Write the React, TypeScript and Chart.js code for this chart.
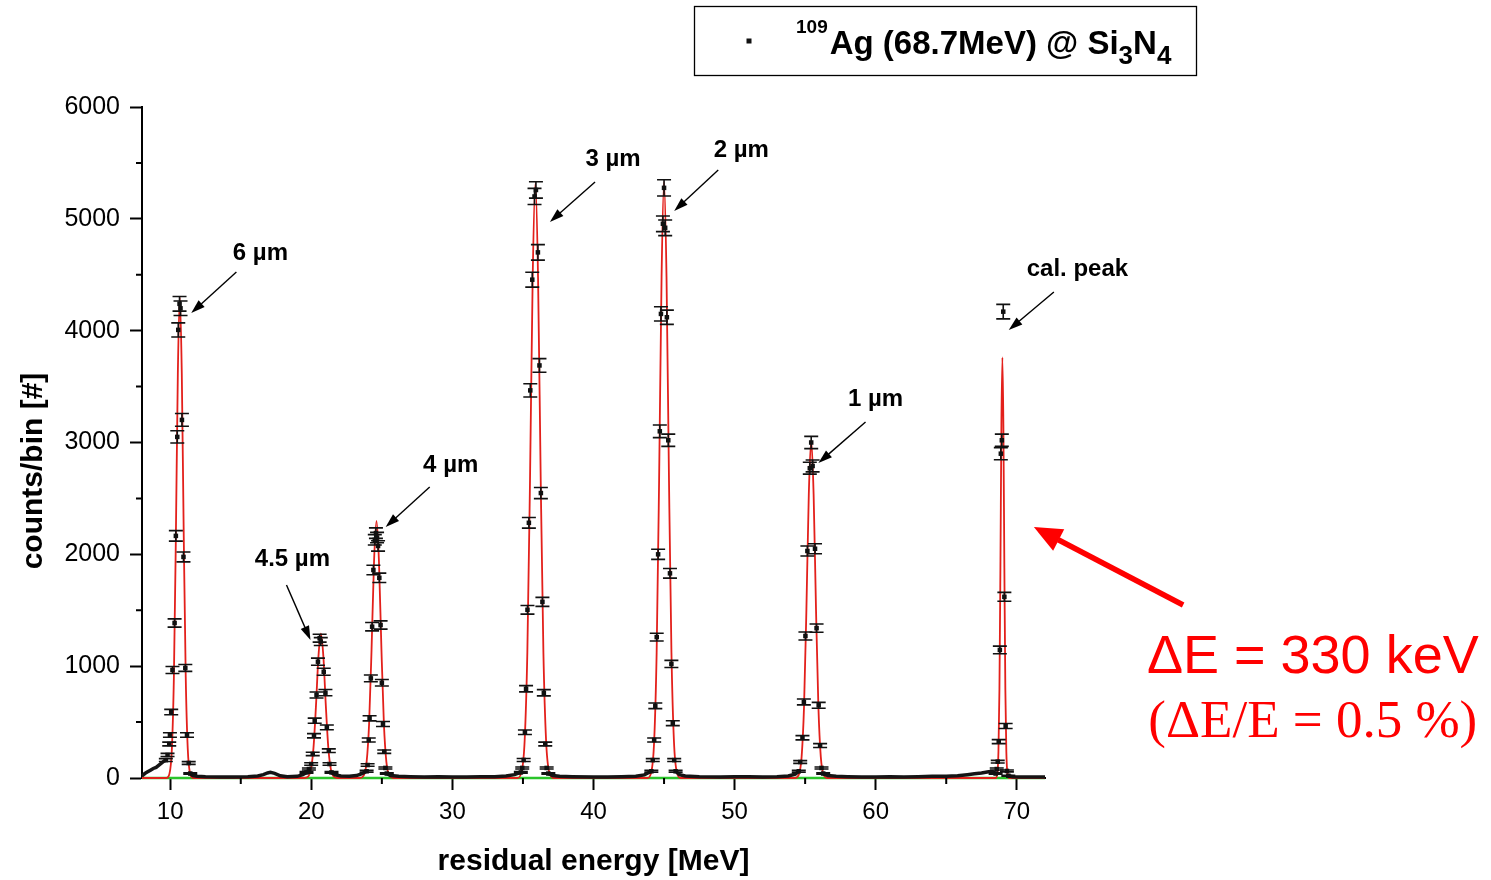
import React, { useEffect, useRef } from 'react';
import { Chart, registerables } from 'chart.js';

Chart.register(...registerables);

// ---- data: [residual energy (MeV), counts/bin, error] ----
const peak6um: number[][] = [
  [9.69, 160, 13], [9.81, 206, 14], [9.93, 304, 17], [9.98, 385, 20], [10.07, 590, 24], [10.16, 966, 31],
  [10.31, 1386, 37], [10.40, 2165, 47], [10.50, 3050, 55], [10.57, 4007, 63], [10.66, 4240, 65],
  [10.73, 4200, 65], [10.83, 3202, 57], [10.94, 1977, 44], [11.07, 984, 31], [11.19, 385, 20],
  [11.31, 134, 12], [11.42, 40, 6],
];
const peak45um: number[][] = [
  [19.66, 50, 7], [19.83, 80, 9], [19.99, 125, 11], [20.10, 215, 15], [20.19, 378, 19], [20.24, 512, 23],
  [20.37, 742, 27], [20.47, 1040, 32], [20.59, 1250, 35], [20.67, 1220, 35], [20.88, 950, 31],
  [21.00, 763, 28], [21.10, 453, 21], [21.24, 244, 16], [21.29, 125, 11], [21.43, 50, 7],
];
const peak4um: number[][] = [
  [23.92, 60, 8], [23.99, 116, 11], [24.07, 340, 18], [24.13, 534, 23], [24.22, 891, 30], [24.31, 1353, 37],
  [24.40, 1860, 43], [24.50, 2130, 46], [24.58, 2190, 47], [24.66, 2150, 46], [24.73, 2075, 46],
  [24.82, 1790, 42], [24.91, 1368, 37], [25.00, 852, 29], [25.08, 483, 22], [25.17, 235, 15],
  [25.25, 90, 9], [25.35, 40, 6],
];
const peak3um: number[][] = [
  [34.85, 50, 7], [34.95, 90, 9], [35.05, 161, 13], [35.14, 409, 20], [35.22, 798, 28], [35.32, 1504, 39],
  [35.42, 2282, 48], [35.52, 3466, 59], [35.66, 4456, 67], [35.82, 5200, 72], [35.92, 5258, 73],
  [36.06, 4700, 69], [36.17, 3689, 61], [36.27, 2548, 50], [36.38, 1575, 40], [36.48, 762, 28],
  [36.58, 304, 17], [36.68, 90, 9], [36.80, 40, 6],
];
const peak2um: number[][] = [
  [44.10, 60, 8], [44.20, 160, 13], [44.30, 340, 18], [44.38, 645, 25], [44.48, 1260, 35], [44.58, 2000, 45],
  [44.70, 3100, 56], [44.78, 4150, 64], [44.92, 4956, 70], [45.00, 5277, 73], [45.08, 4920, 70],
  [45.20, 4120, 64], [45.30, 3020, 55], [45.42, 1830, 43], [45.52, 1020, 32], [45.62, 490, 22],
  [45.72, 160, 13], [45.82, 60, 8],
];
const peak1um: number[][] = [
  [54.55, 60, 8], [54.65, 143, 12], [54.81, 360, 19], [54.91, 680, 26], [55.02, 1270, 36], [55.16, 2030, 45],
  [55.33, 2770, 53], [55.43, 3000, 55], [55.53, 2790, 53], [55.70, 2050, 45], [55.81, 1340, 37],
  [55.96, 650, 26], [56.06, 290, 17], [56.16, 90, 9], [56.28, 40, 6],
];
const peakCal: number[][] = [
  [68.50, 40, 6], [68.58, 80, 9], [68.65, 146, 12], [68.72, 325, 18], [68.80, 1145, 34], [68.87, 2900, 54],
  [68.94, 3020, 55], [69.04, 4170, 65], [69.12, 1620, 40], [69.21, 465, 22], [69.30, 63, 8], [69.40, 20, 4],
];

// low-count background between the peaks
const baselineSegments: number[][][] = [
  [[8.0, 20], [8.2, 40], [8.4, 55], [8.6, 70], [8.8, 85], [9.0, 95], [9.2, 115], [9.4, 135], [9.55, 150], [9.69, 160]],
  [[11.42, 40], [11.6, 22], [11.9, 15], [12.5, 12], [13.5, 10], [14.5, 10], [15.5, 12], [16.2, 18], [16.6, 30],
   [16.9, 45], [17.1, 50], [17.4, 42], [17.8, 20], [18.3, 12], [19.0, 15], [19.4, 30], [19.66, 50]],
  [[21.43, 50], [21.7, 28], [22.1, 18], [22.7, 15], [23.2, 22], [23.6, 40], [23.92, 60]],
  [[25.35, 40], [25.6, 22], [26.2, 15], [27, 12], [28, 10], [29, 12], [30, 10], [31, 10], [32, 12], [33, 12],
   [33.8, 18], [34.4, 30], [34.85, 50]],
  [[36.80, 40], [37.1, 22], [37.6, 15], [38.5, 12], [40, 10], [41, 10], [42, 12], [43, 15], [43.6, 28], [44.10, 60]],
  [[45.82, 60], [46.1, 30], [46.5, 18], [47.5, 12], [49, 10], [50, 12], [51, 12], [52, 10], [53, 12], [53.8, 18],
   [54.3, 35], [54.55, 60]],
  [[56.28, 40], [56.6, 22], [57.2, 15], [58, 12], [59, 10], [60, 10], [61, 12], [62, 10], [63, 12], [64, 15],
   [65, 15], [65.8, 20], [66.5, 30], [67, 38], [67.5, 45], [68, 55], [68.3, 55], [68.50, 40]],
  [[69.40, 20], [69.7, 12], [70.3, 10], [71, 8], [72, 8]],
];

// fitted curve (red)
const fitCurve: number[][] = [
  [8, 0],
  [9.73, 0], [9.95, 40], [10.12, 269], [10.26, 903], [10.40, 2150], [10.54, 3616], [10.68, 4300],
  [10.82, 3616], [10.96, 2150], [11.10, 903], [11.24, 269], [11.41, 40], [11.63, 0],
  [19.49, 0], [19.77, 12], [19.98, 81], [20.155, 271], [20.33, 645], [20.505, 1085], [20.68, 1290],
  [20.855, 1085], [21.03, 645], [21.205, 271], [21.38, 81], [21.59, 12], [21.87, 0],
  [23.43, 0], [23.71, 21], [23.92, 144], [24.095, 483], [24.27, 1150], [24.445, 1934], [24.62, 2300],
  [24.795, 1934], [24.97, 1150], [25.145, 483], [25.32, 144], [25.53, 21], [25.81, 0],
  [34.59, 0], [34.892, 49], [35.12, 333], [35.31, 1117], [35.50, 2660], [35.69, 4474], [35.88, 5320],
  [36.07, 4474], [36.26, 2660], [36.45, 1117], [36.64, 333], [36.868, 49], [37.17, 0],
  [43.81, 0], [44.09, 49], [44.30, 333], [44.475, 1119], [44.65, 2665], [44.825, 4483], [45.00, 5330],
  [45.175, 4483], [45.35, 2665], [45.525, 1119], [45.70, 333], [45.91, 49], [46.19, 0],
  [54.27, 0], [54.546, 28], [54.75, 189], [54.92, 634], [55.09, 1510], [55.26, 2540], [55.43, 3020],
  [55.60, 2540], [55.77, 1510], [55.94, 634], [56.11, 189], [56.314, 28], [56.59, 0],
  [68.50, 0], [68.616, 35], [68.70, 235], [68.77, 790], [68.84, 1880], [68.91, 3162], [68.98, 3760],
  [69.05, 3162], [69.12, 1880], [69.19, 790], [69.26, 235], [69.344, 35], [69.46, 0],
  [72, 0],
];
const backgroundFit: number[][] = [[8, 0], [72, 0]];

const X_MIN = 8;
const X_MAX = 72;
const X_STEP = 10;
const Y_MIN = 0;
const Y_MAX = 6000;
const Y_STEP = 1000;

// annotation labels in data coordinates: text, label (x, baseline y), arrow tail, arrow head
const peakLabels: { text: string; at: number[]; from: number[]; to: number[] }[] = [
  { text: '6 µm', at: [16.39, 4632], from: [14.69, 4525], to: [11.49, 4158] },
  { text: '4.5 µm', at: [18.66, 1896], from: [18.24, 1726], to: [19.94, 1234] },
  { text: '4 µm', at: [29.88, 2736], from: [28.39, 2602], to: [25.27, 2244] },
  { text: '3 µm', at: [41.38, 5473], from: [40.11, 5330], to: [36.91, 4972] },
  { text: '2 µm', at: [50.47, 5553], from: [48.84, 5437], to: [45.72, 5070] },
  { text: '1 µm', at: [59.99, 3326], from: [59.28, 3183], to: [55.94, 2817] },
  { text: 'cal. peak', at: [74.30, 4489], from: [72.63, 4346], to: [69.43, 4006] },
];
const resolutionArrow = { from: [81.79, 1547], to: [71.21, 2244] };
const resolutionText1 = { text: 'ΔE = 330 keV', at: [90.98, 939] };
const resolutionText2 = { text: '(ΔE/E = 0.5 %)', at: [90.98, 367] };

const SANS = '"Liberation Sans", Arial, Helvetica, sans-serif';
const SERIF = '"Liberation Serif", "Times New Roman", Times, serif';

function drawArrow(ctx: CanvasRenderingContext2D, x1: number, y1: number, x2: number, y2: number,
  lw: number, hl: number, hw: number, color: string) {
  const a = Math.atan2(y2 - y1, x2 - x1);
  const bx = x2 - hl * Math.cos(a);
  const by = y2 - hl * Math.sin(a);
  ctx.strokeStyle = color;
  ctx.fillStyle = color;
  ctx.lineWidth = lw;
  ctx.beginPath();
  ctx.moveTo(x1, y1);
  ctx.lineTo(bx + 0.5 * Math.cos(a), by + 0.5 * Math.sin(a));
  ctx.stroke();
  ctx.beginPath();
  ctx.moveTo(x2, y2);
  ctx.lineTo(bx + (hw / 2) * Math.sin(a), by - (hw / 2) * Math.cos(a));
  ctx.lineTo(bx - (hw / 2) * Math.sin(a), by + (hw / 2) * Math.cos(a));
  ctx.closePath();
  ctx.fill();
}

const allPeaks = [peak6um, peak45um, peak4um, peak3um, peak2um, peak1um, peakCal];

const overlayPlugin = {
  id: 'overlay',
  afterDatasetsDraw(chart: any) {
    const { ctx, scales } = chart;
    const x = scales.x;
    const y = scales.y;
    ctx.save();
    ctx.strokeStyle = '#111';
    ctx.lineWidth = 1.6;
    for (const peak of allPeaks) {
      for (const [e, c, err] of peak) {
        const px = x.getPixelForValue(e);
        const top = y.getPixelForValue(c + err);
        const bot = y.getPixelForValue(Math.max(0, c - err));
        ctx.beginPath();
        ctx.moveTo(px, top);
        ctx.lineTo(px, bot);
        ctx.moveTo(px - 7, top);
        ctx.lineTo(px + 7, top);
        ctx.moveTo(px - 7, bot);
        ctx.lineTo(px + 7, bot);
        ctx.stroke();
      }
    }
    ctx.restore();
  },
  afterDraw(chart: any) {
    const { ctx, scales, chartArea } = chart;
    const x = scales.x;
    const y = scales.y;
    ctx.save();

    // minor ticks
    ctx.strokeStyle = '#000';
    ctx.lineWidth = 2;
    ctx.beginPath();
    for (let v = X_MIN - (X_MIN % X_STEP) + X_STEP / 2; v < X_MAX; v += X_STEP) {
      if (v <= X_MIN) continue;
      const px = x.getPixelForValue(v);
      ctx.moveTo(px, chartArea.bottom);
      ctx.lineTo(px, chartArea.bottom + 6);
    }
    for (let v = Y_MIN + Y_STEP / 2; v < Y_MAX; v += Y_STEP) {
      const py = y.getPixelForValue(v);
      ctx.moveTo(chartArea.left - 6, py);
      ctx.lineTo(chartArea.left, py);
    }
    ctx.stroke();

    // axis titles
    ctx.fillStyle = '#000';
    ctx.font = `bold 30px ${SANS}`;
    ctx.textAlign = 'center';
    ctx.textBaseline = 'alphabetic';
    ctx.fillText('residual energy [MeV]', (chartArea.left + chartArea.right) / 2, 870);
    ctx.save();
    ctx.translate(42, 471);
    ctx.rotate(-Math.PI / 2);
    ctx.fillText('counts/bin [#]', 0, 0);
    ctx.restore();

    // peak labels with arrows
    ctx.font = `bold 24px ${SANS}`;
    for (const lab of peakLabels) {
      ctx.fillStyle = '#000';
      ctx.textAlign = 'center';
      ctx.fillText(lab.text, x.getPixelForValue(lab.at[0]), y.getPixelForValue(lab.at[1]));
      drawArrow(ctx, x.getPixelForValue(lab.from[0]), y.getPixelForValue(lab.from[1]),
        x.getPixelForValue(lab.to[0]), y.getPixelForValue(lab.to[1]), 1.4, 14, 9, '#000');
    }

    // resolution annotation (red)
    drawArrow(ctx, x.getPixelForValue(resolutionArrow.from[0]), y.getPixelForValue(resolutionArrow.from[1]),
      x.getPixelForValue(resolutionArrow.to[0]), y.getPixelForValue(resolutionArrow.to[1]), 5.5, 28, 24, '#f00');
    ctx.fillStyle = '#f00';
    ctx.textAlign = 'center';
    ctx.font = `54px ${SANS}`;
    ctx.fillText(resolutionText1.text, x.getPixelForValue(resolutionText1.at[0]), y.getPixelForValue(resolutionText1.at[1]));
    ctx.font = `53px ${SERIF}`;
    ctx.fillText(resolutionText2.text, x.getPixelForValue(resolutionText2.at[0]), y.getPixelForValue(resolutionText2.at[1]));

    // legend box
    ctx.strokeStyle = '#000';
    ctx.lineWidth = 1.3;
    ctx.strokeRect(694.5, 6.5, 502, 69);
    ctx.fillStyle = '#111';
    ctx.fillRect(746.5, 38.5, 5, 5);
    ctx.fillStyle = '#000';
    ctx.textAlign = 'left';
    let cx = 796;
    ctx.font = `bold 19px ${SANS}`;
    ctx.fillText('109', cx, 33);
    cx += ctx.measureText('109').width + 2;
    ctx.font = `bold 33px ${SANS}`;
    ctx.fillText('Ag (68.7MeV) @ Si', cx, 54);
    cx += ctx.measureText('Ag (68.7MeV) @ Si').width;
    ctx.font = `bold 26px ${SANS}`;
    ctx.fillText('3', cx, 64);
    cx += ctx.measureText('3').width;
    ctx.font = `bold 33px ${SANS}`;
    ctx.fillText('N', cx, 54);
    cx += ctx.measureText('N').width;
    ctx.font = `bold 26px ${SANS}`;
    ctx.fillText('4', cx, 64);

    ctx.restore();
  },
};

export default function App() {
  const canvasRef = useRef<HTMLCanvasElement | null>(null);

  useEffect(() => {
    const canvas = canvasRef.current;
    if (!canvas) return;

    const points = allPeaks.flat().map(([e, c]) => ({ x: e, y: c }));
    const baseline: { x: number; y: number | null }[] = [];
    baselineSegments.forEach((seg, i) => {
      if (i > 0) baseline.push({ x: seg[0][0], y: null });
      seg.forEach(([e, c]) => baseline.push({ x: e, y: c }));
    });
    const fit = fitCurve.map(([e, c]) => ({ x: e, y: c }));
    const bg = backgroundFit.map(([e, c]) => ({ x: e, y: c }));

    const chart = new Chart(canvas, {
      type: 'scatter',
      data: {
        datasets: [
          {
            data: points, showLine: false, pointStyle: 'rect', pointRadius: 3.2,
            pointBackgroundColor: '#111', pointBorderColor: '#111', pointBorderWidth: 0,
            order: 0, clip: false,
          } as any,
          {
            data: baseline, showLine: true, borderColor: '#151515', borderWidth: 3.5,
            pointRadius: 0, spanGaps: false, order: 1, clip: false,
          } as any,
          {
            data: fit, showLine: true, borderColor: '#e3201b', borderWidth: 1.8, pointRadius: 0,
            cubicInterpolationMode: 'monotone', order: 2, clip: false,
          } as any,
          {
            data: bg, showLine: true, borderColor: '#2ac42a', borderWidth: 2.5, pointRadius: 0,
            order: 3, clip: false,
          } as any,
        ],
      },
      options: {
        animation: false,
        responsive: true,
        maintainAspectRatio: false,
        events: [],
        layout: { padding: { top: 107, right: 446, bottom: 0, left: 0 } },
        plugins: { legend: { display: false }, tooltip: { enabled: false } },
        scales: {
          x: {
            type: 'linear',
            min: X_MIN,
            max: X_MAX,
            afterFit: (s: any) => { s.height = 102; },
            ticks: {
              stepSize: X_STEP, includeBounds: false, padding: 8, color: '#000', maxRotation: 0,
              font: { family: SANS, size: 24 },
              callback: (v: any) => String(v),
            },
            grid: { drawOnChartArea: false, drawTicks: true, tickLength: 12, tickWidth: 2, tickColor: '#000' },
            border: { display: true, color: '#000', width: 2 },
          },
          y: {
            type: 'linear',
            min: Y_MIN,
            max: Y_MAX,
            afterFit: (s: any) => { s.width = 142; },
            ticks: {
              stepSize: Y_STEP, padding: 10, color: '#000',
              font: { family: SANS, size: 25 },
              callback: (v: any) => String(v),
            },
            grid: { drawOnChartArea: false, drawTicks: true, tickLength: 12, tickWidth: 2, tickColor: '#000' },
            border: { display: true, color: '#000', width: 2 },
          },
        },
      } as any,
      plugins: [overlayPlugin as any],
    });

    return () => chart.destroy();
  }, []);

  return (
    <div style={{ position: 'fixed', left: 0, top: 0, width: 1491, height: 880, background: '#fff' }}>
      <canvas ref={canvasRef} />
    </div>
  );
}
